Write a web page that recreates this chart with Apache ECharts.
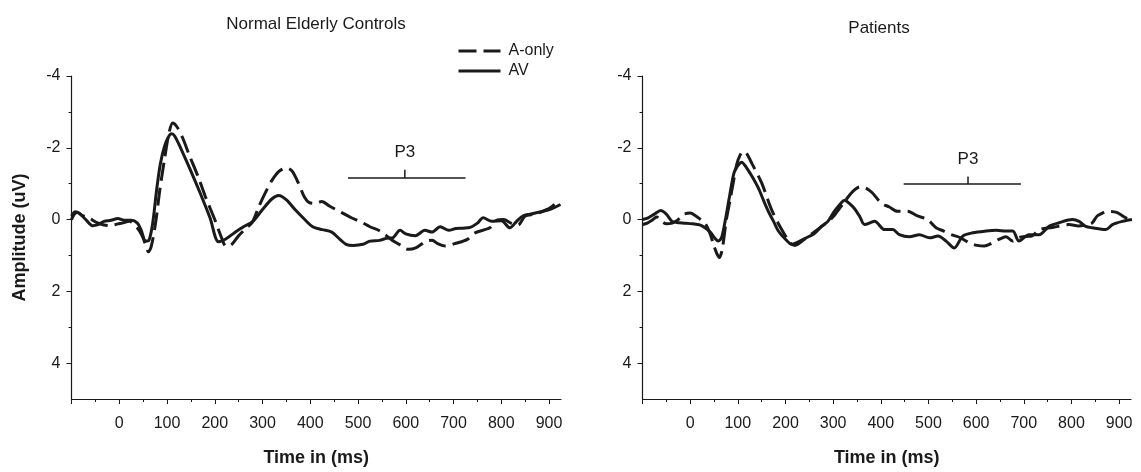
<!DOCTYPE html>
<html>
<head>
<meta charset="utf-8">
<script src="https://cdn.jsdelivr.net/npm/echarts@6/dist/echarts.min.js"></script>
<style>
  html, body { margin: 0; padding: 0; background: #ffffff; }
  #chart { width: 1141px; height: 472px; }
</style>
</head>
<body>
<div id="chart"></div>
<script>
// Grand-average ERP waveforms (amplitude in uV, negative plotted upward)
const panelTitles = ['Normal Elderly Controls', 'Patients'];
const seriesNames = ['A-only', 'AV'];

const timeTicks = [-100, 0, 100, 200, 300, 400, 500, 600, 700, 800, 900];
const timeLabels = [0, 100, 200, 300, 400, 500, 600, 700, 800, 900];
const timeMinorTicks = [-50, 50, 150, 250, 350, 450, 550, 650, 750, 850];
const ampTicks = [-4, -2, 0, 2, 4];
const ampMinorTicks = [-3, -1, 1, 3];

// [time ms, amplitude uV]
const controlsAOnly = [
  [-100, 0.0], [-94, -0.15], [-88, -0.2], [-78, -0.12], [-64, -0.05], [-48, 0.08],
  [-32, 0.15], [-17, 0.17], [-3, 0.12], [6, 0.1], [21, 0.05], [37, 0.22], [48, 0.45],
  [55, 0.7], [61, 0.9], [67, 0.75], [76, 0.1], [85, -0.83], [95, -1.7], [104, -2.4],
  [112, -2.69], [120, -2.6], [132, -2.3], [145, -1.85], [165, -1.2], [180, -0.65],
  [200, 0.0], [214, 0.5], [224, 0.75], [235, 0.7], [250, 0.45], [265, 0.25], [278, 0.09],
  [292, -0.35], [306, -0.75], [320, -1.1], [335, -1.35], [350, -1.44], [362, -1.35],
  [375, -1.02], [388, -0.62], [398, -0.47], [410, -0.45], [424, -0.5], [441, -0.37],
  [465, -0.2], [486, -0.05], [504, 0.05], [525, 0.2], [546, 0.32], [570, 0.56],
  [590, 0.72], [605, 0.83], [622, 0.78], [643, 0.6], [655, 0.58], [668, 0.68],
  [683, 0.74], [705, 0.66], [728, 0.56], [745, 0.37], [776, 0.23], [790, 0.02],
  [805, 0.0], [820, 0.1], [835, 0.15], [850, -0.1], [870, -0.15], [887, -0.23],
  [905, -0.35], [920, -0.56]
];
const controlsAV = [
  [-100, -0.1], [-92, -0.22], [-84, -0.18], [-70, 0.0], [-56, 0.17], [-46, 0.15],
  [-32, 0.05], [-17, 0.02], [-3, -0.03], [10, 0.02], [25, 0.02], [38, 0.1], [46, 0.3],
  [55, 0.6], [62, 0.58], [70, 0.1], [78, -0.8], [86, -1.55], [95, -2.05], [103, -2.3],
  [109, -2.39], [116, -2.33], [130, -1.95], [150, -1.35], [170, -0.72], [190, -0.05],
  [208, 0.62], [222, 0.55], [240, 0.38], [260, 0.2], [280, 0.05], [300, -0.28],
  [320, -0.58], [334, -0.67], [350, -0.55], [370, -0.25], [390, 0.02], [405, 0.2],
  [425, 0.28], [445, 0.35], [462, 0.55], [475, 0.69], [490, 0.72], [510, 0.69],
  [525, 0.6], [545, 0.58], [560, 0.52], [572, 0.51], [588, 0.3], [600, 0.4], [620, 0.45],
  [640, 0.3], [655, 0.35], [672, 0.2], [690, 0.3], [705, 0.25], [720, 0.24], [735, 0.22],
  [750, 0.1], [762, -0.05], [780, 0.05], [800, 0.03], [818, 0.23], [832, 0.05],
  [845, -0.1], [860, -0.15], [887, -0.23], [905, -0.3], [924, -0.42]
];
const patientsAOnly = [
  [-100, 0.14], [-90, 0.1], [-80, 0.02], [-70, -0.07], [-60, 0.05], [-50, 0.12],
  [-38, 0.1], [-25, 0.0], [-15, -0.14], [0, -0.18], [12, -0.1], [22, 0.0], [31, 0.09],
  [42, 0.4], [50, 0.74], [56, 0.95], [61, 1.06], [67, 0.85], [76, 0.0], [84, -0.56],
  [90, -1.0], [98, -1.55], [105, -1.8], [111, -1.9], [118, -1.85], [130, -1.55],
  [150, -1.02], [171, -0.27], [192, 0.28], [210, 0.65], [220, 0.72], [235, 0.6],
  [255, 0.4], [276, 0.19], [290, 0.05], [304, -0.14], [324, -0.5], [342, -0.79],
  [356, -0.91], [368, -0.88], [381, -0.76], [401, -0.46], [418, -0.35], [435, -0.23],
  [456, -0.23], [477, -0.1], [498, 0.0], [516, 0.23], [532, 0.32], [548, 0.42],
  [566, 0.5], [586, 0.65], [602, 0.72], [617, 0.74], [634, 0.65], [648, 0.55],
  [663, 0.48], [677, 0.6], [690, 0.5], [705, 0.47], [717, 0.46], [732, 0.28],
  [760, 0.22], [795, 0.14], [815, 0.18], [830, 0.15], [843, 0.1], [854, -0.1],
  [865, -0.18], [875, -0.23], [895, -0.2], [914, -0.05], [925, 0.0]
];
const patientsAV = [
  [-100, 0.0], [-88, -0.05], [-75, -0.15], [-62, -0.25], [-50, -0.15], [-38, 0.05],
  [-28, 0.08], [-10, 0.1], [5, 0.12], [20, 0.15], [31, 0.23], [42, 0.35], [52, 0.52],
  [59, 0.6], [66, 0.5], [74, 0.0], [82, -0.6], [92, -1.3], [100, -1.5], [108, -1.6],
  [118, -1.45], [130, -1.2], [143, -0.88], [155, -0.5], [164, -0.23], [175, 0.05],
  [185, 0.32], [200, 0.55], [213, 0.69], [230, 0.6], [245, 0.5], [260, 0.4], [275, 0.2],
  [289, 0.05], [302, -0.22], [316, -0.45], [324, -0.54], [334, -0.45], [345, -0.3],
  [356, -0.08], [366, 0.14], [387, 0.05], [408, 0.28], [425, 0.28], [439, 0.42],
  [460, 0.48], [481, 0.42], [502, 0.51], [520, 0.46], [537, 0.6], [554, 0.79],
  [572, 0.46], [593, 0.37], [621, 0.32], [642, 0.3], [663, 0.32], [677, 0.32],
  [690, 0.6], [711, 0.42], [732, 0.42], [753, 0.19], [774, 0.09], [802, 0.0],
  [816, 0.05], [830, 0.19], [844, 0.23], [872, 0.28], [886, 0.14], [907, 0.05], [927, 0.0]
];

// P3 measurement window per panel: [start, end] ms, bar level, centre mark and its top
const p3Windows = [[479, 725], [448, 694]];
const p3Levels = [-1.16, -0.99];
const p3Centres = [598, 583];
const p3MarkTops = [-1.39, -1.2];

const panelData = [
  [controlsAOnly, controlsAV],
  [patientsAOnly, patientsAV]
];

const FONT = '"Liberation Sans", Arial, Helvetica, sans-serif';
const INK = '#1a1a1a';
const grids = [
  { left: 71.5, top: 76, width: 489.5, height: 325 },
  { left: 642.5, top: 76, width: 488.5, height: 325 }
];
const titleCentres = [[316, 24], [879, 28]];

const xAxes = [];
const yAxes = [];
grids.forEach((g, i) => {
  xAxes.push({
    type: 'value', gridIndex: i, min: -100, max: 925, position: 'bottom',
    axisLine: { show: true, onZero: false, lineStyle: { color: INK, width: 1.2 } },
    axisTick: { show: true, length: 5, customValues: timeTicks, lineStyle: { color: INK, width: 1 } },
    axisLabel: { customValues: timeLabels, margin: 17, fontSize: 16, color: INK, fontFamily: FONT },
    splitLine: { show: false },
    name: 'Time in (ms)', nameLocation: 'middle', nameGap: 50,
    nameTextStyle: { fontSize: 18, fontWeight: 'bold', color: INK, fontFamily: FONT }
  });
  yAxes.push({
    type: 'value', gridIndex: i, min: -4, max: 5, inverse: true, position: 'left',
    axisLine: { show: true, onZero: false, lineStyle: { color: INK, width: 1.2 } },
    axisTick: { show: true, length: 5, customValues: ampTicks, lineStyle: { color: INK, width: 1 } },
    axisLabel: { customValues: ampTicks, margin: 11, fontSize: 16, color: INK, fontFamily: FONT },
    splitLine: { show: false },
    name: i === 0 ? 'Amplitude (uV)' : '', nameLocation: 'middle', nameGap: 42, nameRotate: 90,
    nameTextStyle: { fontSize: 18, fontWeight: 'bold', color: INK, fontFamily: FONT }
  });
});
// shorter minor ticks on companion axes
grids.forEach((g, i) => {
  xAxes.push({
    type: 'value', gridIndex: i, min: -100, max: 925, position: 'bottom',
    axisLine: { show: false, onZero: false },
    axisTick: { show: true, length: 3, customValues: timeMinorTicks, lineStyle: { color: INK, width: 1 } },
    axisLabel: { show: false }, splitLine: { show: false }
  });
  yAxes.push({
    type: 'value', gridIndex: i, min: -4, max: 5, inverse: true, position: 'left',
    axisLine: { show: false, onZero: false },
    axisTick: { show: true, length: 3, customValues: ampMinorTicks, lineStyle: { color: INK, width: 1 } },
    axisLabel: { show: false }, splitLine: { show: false }
  });
});

const series = [];
panelData.forEach((pair, i) => {
  series.push({
    name: seriesNames[0], type: 'line', xAxisIndex: i, yAxisIndex: i,
    data: pair[0], symbol: 'none', showSymbol: false, smooth: 0.3, silent: true, z: 3,
    itemStyle: { color: INK },
    lineStyle: { color: INK, width: 3, type: [18, 7], cap: 'butt' }
  });
  series.push({
    name: seriesNames[1], type: 'line', xAxisIndex: i, yAxisIndex: i,
    data: pair[1], symbol: 'none', showSymbol: false, smooth: 0.3, silent: true, z: 4,
    itemStyle: { color: INK },
    lineStyle: { color: INK, width: 3, type: 'solid' }
  });
  // P3 window bar with centre mark and label
  series.push({
    type: 'line', xAxisIndex: i, yAxisIndex: i, symbol: 'none', silent: true,
    data: [[p3Windows[i][0], p3Levels[i]], [p3Windows[i][1], p3Levels[i]]],
    lineStyle: { color: INK, width: 1.5 }
  });
  series.push({
    type: 'line', xAxisIndex: i, yAxisIndex: i, symbol: 'none', silent: true,
    data: [[p3Centres[i], p3Levels[i]], [p3Centres[i], p3MarkTops[i]]],
    lineStyle: { color: INK, width: 1.5 }
  });
  series.push({
    type: 'scatter', xAxisIndex: i, yAxisIndex: i, symbolSize: 0, silent: true,
    data: [[p3Centres[i], p3MarkTops[i]]],
    itemStyle: { opacity: 1, color: INK },
    label: { show: true, formatter: 'P3', position: 'top', distance: 9, fontSize: 17, color: INK, opacity: 1, fontFamily: FONT }
  });
});

const chart = echarts.init(document.getElementById('chart'), null, { renderer: 'canvas' });
chart.setOption({
  animation: false,
  backgroundColor: '#ffffff',
  grid: grids,
  xAxis: xAxes,
  yAxis: yAxes,
  legend: {
    data: seriesNames, orient: 'vertical', left: 452, top: 38,
    itemWidth: 42, itemHeight: 14, itemGap: 4, selectedMode: false,
    itemStyle: { opacity: 0 },
    lineStyle: { width: 3, opacity: 1 },
    textStyle: { fontSize: 16, color: INK, fontFamily: FONT, padding: [0, 0, 0, 3] }
  },
  graphic: panelTitles.map((t, i) => ({
    type: 'text', x: titleCentres[i][0], y: titleCentres[i][1], silent: true,
    style: { text: t, fontSize: 17, fontFamily: FONT, fill: INK, align: 'center', verticalAlign: 'middle' }
  })),
  series: series
});
</script>
</body>
</html>
